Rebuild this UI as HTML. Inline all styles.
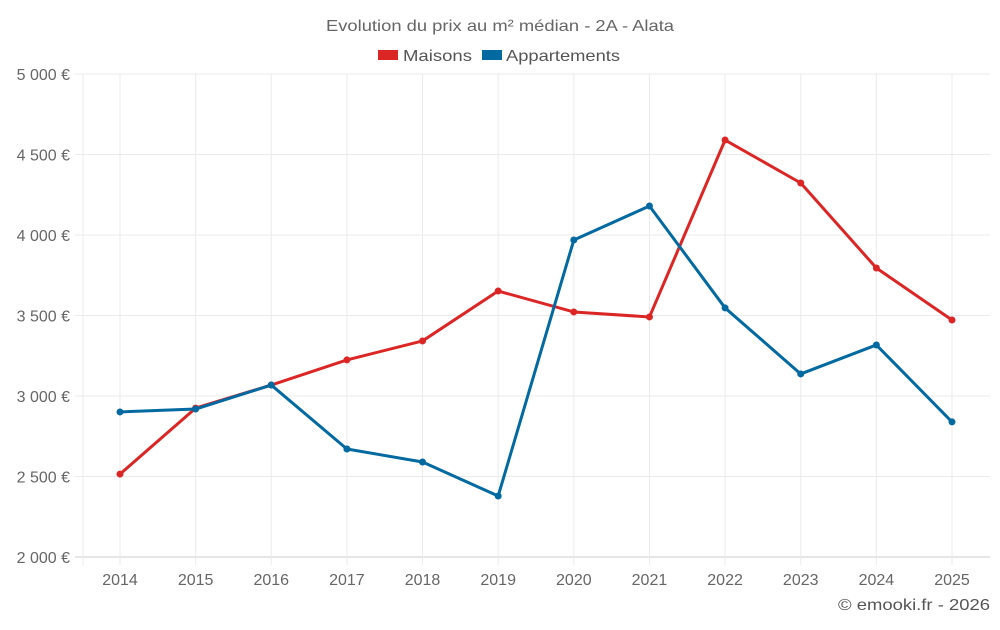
<!DOCTYPE html>
<html><head><meta charset="utf-8"><style>
body{margin:0;background:#fff;font-family:"Liberation Sans",sans-serif;}
svg text{font-family:"Liberation Sans",sans-serif;}
</style></head><body>
<svg id="chart" width="1000" height="625">
<text x="326" y="31" textLength="348" lengthAdjust="spacingAndGlyphs" font-size="16" fill="#666">Evolution du prix au m² médian - 2A - Alata</text>
<g>
<g><rect x="378" y="50" width="20" height="10" fill="#dc2626"/><text x="403" y="61" font-size="16" fill="#555" textLength="69" lengthAdjust="spacingAndGlyphs">Maisons</text></g>
<g><rect x="482" y="50" width="20" height="10" fill="#0369a1"/><text x="506" y="61" font-size="16" fill="#555" textLength="114" lengthAdjust="spacingAndGlyphs">Appartements</text></g>
</g>
<g id="grid"></g><g id="axes"></g><g id="series"></g>
<text x="990" y="610" text-anchor="end" font-size="16" fill="#555" textLength="152" lengthAdjust="spacingAndGlyphs">© emooki.fr - 2026</text>
</svg>
<script>
const years=["2014","2015","2016","2017","2018","2019","2020","2021","2022","2023","2024","2025"];
const maisons=[2515,2925,3068,3224,3342,3652,3522,3491,4590,4323,3795,3472];
const appartements=[2901,2919,3068,2671,2590,2379,3969,4180,3547,3137,3317,2839];
const yTicks=[2000,2500,3000,3500,4000,4500,5000];
const yLabels=["2 000 €","2 500 €","3 000 €","3 500 €","4 000 €","4 500 €","5 000 €"];
const NS="http://www.w3.org/2000/svg";
const L=83,R=990,T=74,B=557;
const x=i=>120+i*(952-120)/(years.length-1);
const y=v=>B-(v-2000)/3000*(B-T);
function mk(p,tag,at){const e=document.createElementNS(NS,tag);for(const k in at)e.setAttribute(k,at[k]);p.appendChild(e);return e;}
const g=document.getElementById('grid'),a=document.getElementById('axes'),s=document.getElementById('series');
yTicks.forEach((v,i)=>{
 const ln=mk(g,'line',{x1:L-8,x2:R,y1:y(v),y2:y(v),stroke:i==0?'#ccc':'#ebebeb'});
 
 
 const t=mk(a,'text',{x:70,y:y(v)+6,'text-anchor':'end','font-size':16,fill:'#666'});t.textContent=yLabels[i];
 
 
});
mk(g,'line',{x1:L,x2:L,y1:T,y2:B+8,stroke:'#ebebeb'});
years.forEach((yr,i)=>{
 const ln=mk(g,'line',{x1:x(i),x2:x(i),y1:T,y2:B+8,stroke:'#ebebeb'});
 
 
 const t=mk(a,'text',{x:x(i),y:585,'text-anchor':'middle','font-size':16,fill:'#666'});t.textContent=yr;
 
 
});
function draw(vals,col,name){
 const p=mk(s,'polyline',{points:vals.map((v,i)=>x(i)+','+y(v)).join(' '),fill:'none',stroke:col,'stroke-width':3,'stroke-linejoin':'round'});
 
 
 vals.forEach((v,i)=>{const c=mk(s,'circle',{cx:x(i),cy:y(v),r:3.5,fill:col});
 
 });
}
draw(maisons,'#dc2626','maisons');
draw(appartements,'#0369a1','appartements');
</script>
</body></html>
